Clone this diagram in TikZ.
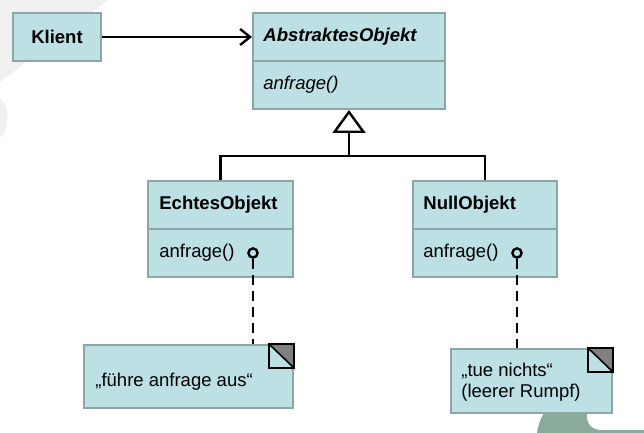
\documentclass[tikz,border=0pt]{standalone}
\usepackage{fontspec}
\setmainfont{Liberation Sans}
\usetikzlibrary{arrows.meta}
\definecolor{boxfill}{RGB}{188,224,227}
\definecolor{boxline}{RGB}{140,166,166}
\definecolor{bggrey}{RGB}{240,240,240}
\definecolor{bggreen}{RGB}{138,170,155}
\definecolor{cornergrey}{RGB}{128,128,128}
\begin{document}
\begin{tikzpicture}[x=0.5pt,y=-0.5pt,
  umlbox/.style={draw=boxline, fill=boxfill, line width=1pt, rectangle, inner sep=0pt, font=\fontsize{9.25}{11}\selectfont},
  lbl/.style={anchor=west, inner sep=0pt, font=\fontsize{9.25}{10.5}\selectfont},
  conn/.style={draw=black, line width=1.2pt},
  dashconn/.style={conn, dash pattern=on 5pt off 3pt},
  lolli/.style={draw=black, circle, line width=1.2pt, minimum size=4.6pt, inner sep=0pt},
  corner/.style={draw=black, line width=0.8pt},
]
\useasboundingbox (0,0) rectangle (644,433);
% background decorations
\fill[bggrey] (0,0) -- (108,0) -- (0,82) -- cycle;
\fill[bggrey] (0,98) .. controls (10,106) and (10,130) .. (0,138) -- cycle;
\fill[bggreen] (537,433) .. controls (538,425) and (541,417) .. (546,410) -- (644,410) -- (644,433) -- cycle;
\fill[white] (587,405) -- (587,416) .. controls (587,425) and (593,430) .. (602,430) -- (644,430) -- (644,405) -- cycle;

% class boxes
\node[umlbox, minimum width=44pt, minimum height=24pt] (klient) at (57,37) {\textbf{Klient}};
\node[umlbox, minimum width=96pt, minimum height=48pt] (abs) at (349,61) {};
\draw[boxline, line width=1pt] (abs.west) -- (abs.east);
\node[lbl] (absname) at (263,37) {\textbf{\textit{AbstraktesObjekt}}};
\node[lbl] (absop) at (263,85) {\textit{anfrage()}};

\node[umlbox, minimum width=72.5pt, minimum height=48pt] (ech) at (220.5,229) {};
\draw[boxline, line width=1pt] (ech.west) -- (ech.east);
\node[lbl] (echname) at (159,205) {\textbf{EchtesObjekt}};
\node[lbl] (echop) at (159,253) {anfrage()};

\node[umlbox, minimum width=72pt, minimum height=48pt] (null) at (485,229) {};
\draw[boxline, line width=1pt] (null.west) -- (null.east);
\node[lbl] (nullname) at (423,205) {\textbf{NullObjekt}};
\node[lbl] (nullop) at (423,253) {anfrage()};

% notes
\node[umlbox, minimum width=104.5pt, minimum height=31.5pt] (n1) at (188.5,376.5) {};
\node[lbl] (n1text) at (95,382) {„führe anfrage aus“};
\fill[cornergrey] (n1.north east) -- ([xshift=-12.5pt]n1.north east) -- ([yshift=-12pt]n1.north east) -- cycle;
\draw[corner] ([xshift=-12.5pt]n1.north east) rectangle ([yshift=-12pt]n1.north east);
\draw[corner] ([xshift=-12.5pt]n1.north east) -- ([yshift=-12pt]n1.north east);

\node[umlbox, minimum width=80.5pt, minimum height=32pt] (n2) at (531.5,381) {};
\node[lbl, align=left] (n2text) at (461,382.5) {„tue nichts“\\(leerer Rumpf)};
\fill[cornergrey] (n2.north east) -- ([xshift=-12.5pt]n2.north east) -- ([yshift=-12pt]n2.north east) -- cycle;
\draw[corner] ([xshift=-12.5pt]n2.north east) rectangle ([yshift=-12pt]n2.north east);
\draw[corner] ([xshift=-12.5pt]n2.north east) -- ([yshift=-12pt]n2.north east);

% lollipops
\node[lolli] (lp1) at (253,253) {};
\node[lolli] (lp2) at (517,253) {};
\draw[dashconn] (lp1.south) -- (lp1.south |- n1.north);
\draw[dashconn] (lp2.south) -- (lp2.south |- n2.north);

% association
\draw[conn, -{Straight Barb[length=5pt, width=8pt]}] (klient.east) -- (abs.west |- klient.east);

% generalisation
\coordinate (bar) at (349,156);
\draw[conn] (ech.north) |- (bar) -| (null.north);
\draw[conn, {Triangle[open, length=11.5pt, width=16.5pt]}-] (abs.south) -- (bar);
\end{tikzpicture}
\end{document}
